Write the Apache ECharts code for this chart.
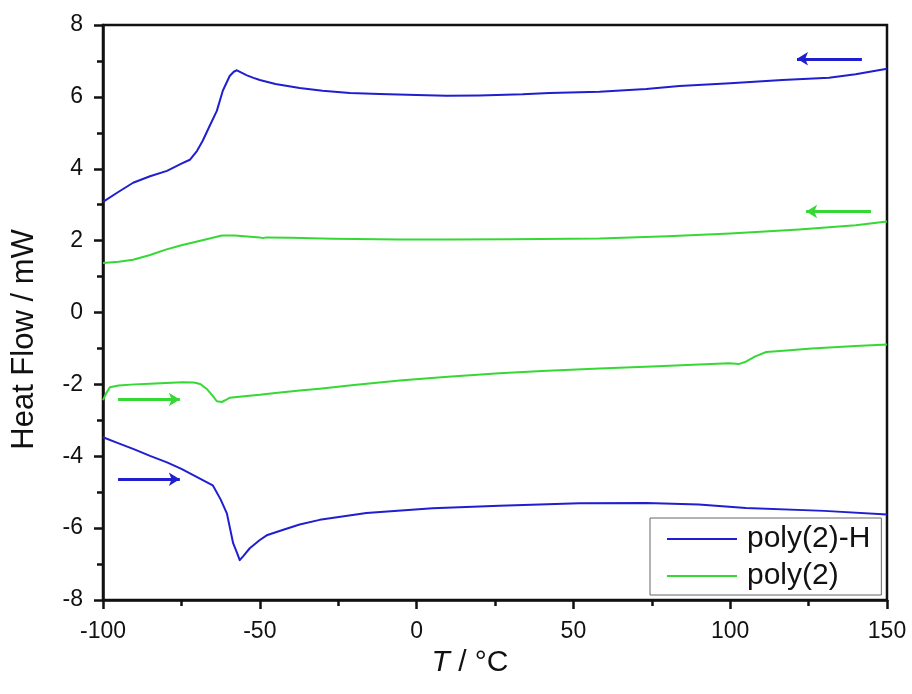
<!DOCTYPE html>
<html>
<head>
<meta charset="utf-8">
<script src="https://cdn.jsdelivr.net/npm/echarts@6/dist/echarts.min.js"></script>
<style>
html,body{margin:0;padding:0;background:#fff;}
#chart{width:912px;height:694px;}
</style>
</head>
<body>
<div id="chart"></div>
<script>
// ---- data ----
var seriesNames = ['poly(2)-H', 'poly(2)'];

// poly(2)-H cooling (upper blue curve)
var hCoolX = [-100, -95, -90.4, -85, -79.6, -75, -72.3, -70, -68.2, -66, -63.7, -61.8, -59.6, -58.3, -57.3, -56, -54.1, -52, -50, -45, -37.3, -30, -21.3, -11.8, 0, 9.6, 20, 33.8, 42.4, 58.3, 73.2, 83.8, 100, 116.6, 131.5, 140, 150];
var hCoolY = [3.08, 3.36, 3.61, 3.79, 3.94, 4.14, 4.25, 4.5, 4.78, 5.19, 5.61, 6.17, 6.58, 6.7, 6.74, 6.68, 6.6, 6.53, 6.47, 6.36, 6.25, 6.17, 6.11, 6.08, 6.05, 6.03, 6.04, 6.07, 6.11, 6.14, 6.22, 6.3, 6.38, 6.47, 6.53, 6.63, 6.78];

// poly(2)-H heating (lower blue curve)
var hHeatX = [-100, -95, -90, -85, -79.6, -75, -70, -65, -62.5, -60.5, -58.5, -57.2, -56.4, -55.2, -53.2, -50, -47.8, -42, -37.3, -30.9, -16, 5.1, 26.4, 51.9, 73.2, 90, 105, 130, 150];
var hHeatY = [-3.47, -3.64, -3.81, -3.99, -4.17, -4.35, -4.58, -4.81, -5.2, -5.59, -6.42, -6.7, -6.89, -6.77, -6.56, -6.33, -6.2, -6.03, -5.9, -5.77, -5.58, -5.45, -5.38, -5.31, -5.3, -5.34, -5.44, -5.52, -5.62];

// poly(2) cooling (upper green curve)
var pCoolX = [-100, -95, -90.4, -85, -80, -75, -71.3, -66, -62.1, -58, -55, -50, -49, -48, -40, -26.8, -5.4, 10, 30, 58.3, 80, 100, 122, 140, 150];
var pCoolY = [1.38, 1.41, 1.47, 1.6, 1.75, 1.87, 1.95, 2.06, 2.14, 2.14, 2.12, 2.09, 2.07, 2.09, 2.08, 2.05, 2.03, 2.03, 2.04, 2.06, 2.12, 2.2, 2.31, 2.43, 2.53];

// poly(2) heating (lower green curve)
var pHeatX = [-100, -99, -97.8, -95, -90, -85, -80, -74.5, -71, -69, -67, -65, -63.7, -62.1, -60.5, -59.6, -55, -50, -45, -37.3, -30.9, -20, -5.4, 10, 26.4, 40, 58.3, 75, 90, 99.7, 102.9, 105, 108, 111.5, 118, 126, 140, 150];
var pHeatY = [-2.44, -2.25, -2.08, -2.03, -2.0, -1.98, -1.96, -1.94, -1.95, -1.99, -2.12, -2.32, -2.47, -2.49, -2.42, -2.37, -2.33, -2.29, -2.24, -2.17, -2.12, -2.02, -1.89, -1.79, -1.69, -1.63, -1.56, -1.5, -1.45, -1.41, -1.43, -1.37, -1.22, -1.1, -1.06, -1.0, -0.93, -0.89];

// direction arrows: [fromX, toX, y]
var arrowHCool = [142, 121.3, 7.06];
var arrowPCool = [144.9, 124.2, 2.81];
var arrowPHeat = [-95.2, -75.5, -2.42];
var arrowHHeat = [-95.2, -75.5, -4.64];

var xTicks = {min: -100, max: 150, interval: 50};
var yTicks = {min: -8, max: 8, interval: 2};

// ---- chart ----
var BLUE = '#1f1fcf';
var GREEN = '#36d836';
var FONT = "'Liberation Sans', Arial, Helvetica, sans-serif";

function zip(xs, ys) { return xs.map(function (x, i) { return [x, ys[i]]; }); }
function arrowLine(a) {
  return [{coord: [a[0], a[2]]}, {coord: [a[1], a[2]]}];
}
function mk(arrows, color) {
  return {
    silent: true,
    animation: false,
    symbol: ['none', 'arrow'],
    symbolSize: [10, 11],
    label: {show: false},
    lineStyle: {color: color, width: 3, type: 'solid'},
    data: arrows.map(arrowLine)
  };
}
function lineSeries(name, data, color, markArrows) {
  return {
    name: name, type: 'line', data: data, symbol: 'none', showSymbol: false,
    smooth: false,
    lineStyle: {color: color, width: 2, join: 'round'}, itemStyle: {color: color},
    animation: false, markLine: markArrows ? mk(markArrows, color) : undefined
  };
}

var axisCommon = {
  axisLine: {onZero: false, lineStyle: {color: '#111', width: 2.5}},
  axisTick: {show: true, length: 9, lineStyle: {color: '#111', width: 2.5}},
  minorTick: {show: true, splitNumber: 2, length: 6, lineStyle: {color: '#111', width: 2.5}},
  splitLine: {show: false},
  axisLabel: {fontSize: 23, color: '#111', margin: 20}
};

var chart = echarts.init(document.getElementById('chart'), null, {renderer: 'canvas'});
chart.setOption({
  backgroundColor: '#fff',
  textStyle: {fontFamily: FONT},
  grid: {left: 103, right: 25, top: 25, bottom: 94, show: true, borderColor: '#111', borderWidth: 2.5, backgroundColor: 'transparent'},
  legend: {
    left: 650, top: 518, orient: 'vertical',
    data: seriesNames.map(function (n) { return {name: n, icon: 'rect'}; }),
    itemWidth: 70, itemHeight: 2, itemGap: 7,
    padding: [6, 11, 4, 17],
    borderColor: '#666', borderWidth: 1,
    textStyle: {fontSize: 30, color: '#111', fontFamily: FONT, padding: [0, 0, 0, 5]}
  },
  xAxis: Object.assign({
    type: 'value', min: xTicks.min, max: xTicks.max, interval: xTicks.interval,
    name: '{i|T} / °C', nameLocation: 'middle', nameGap: 46,
    nameTextStyle: {fontSize: 30, color: '#111', padding: [0, 50, 0, 0],
      rich: {i: {fontStyle: 'italic', fontSize: 30, color: '#111'}}}
  }, axisCommon),
  yAxis: Object.assign({
    type: 'value', min: yTicks.min, max: yTicks.max, interval: yTicks.interval,
    name: 'Heat Flow / mW', nameLocation: 'middle', nameGap: 63,
    nameTextStyle: {fontSize: 31, color: '#111', padding: [0, 54, 0, 0]}
  }, axisCommon),
  series: [
    lineSeries('poly(2)-H', zip(hCoolX, hCoolY), BLUE, [arrowHCool, arrowHHeat]),
    lineSeries('poly(2)-H', zip(hHeatX, hHeatY), BLUE, null),
    lineSeries('poly(2)', zip(pCoolX, pCoolY), GREEN, [arrowPCool, arrowPHeat]),
    lineSeries('poly(2)', zip(pHeatX, pHeatY), GREEN, null)
  ]
});
</script>
</body>
</html>
